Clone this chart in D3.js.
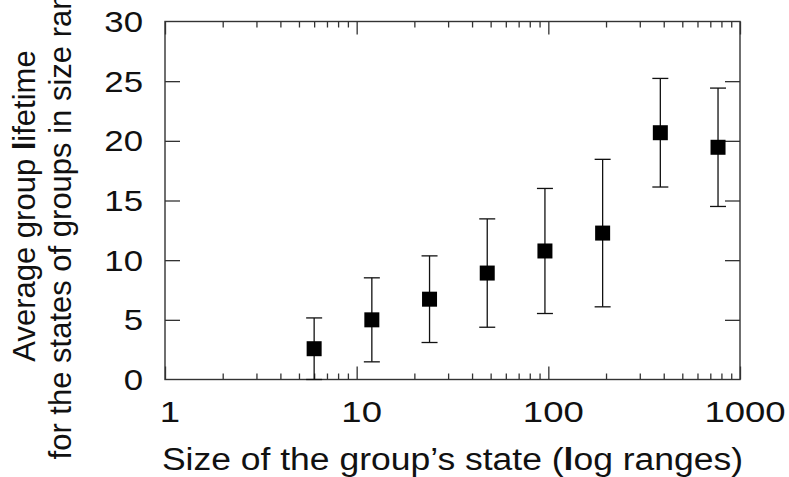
<!DOCTYPE html>
<html>
<head>
<meta charset="utf-8">
<script src="https://cdn.jsdelivr.net/npm/d3@7"></script>
<style>
  body { margin: 0; background: #fff; }
  svg { display: block; font-family: "Liberation Sans", Arial, sans-serif; }
</style>
</head>
<body>
<div id="chart"></div>
<script>
// group state size (log ranges) and average lifetime with its spread
const sizes = [6, 12, 24, 48, 96, 192, 384, 768];
const lifetimes = [2.58, 5.0, 6.73, 8.92, 10.77, 12.27, 20.68, 19.46];
const spreads = [2.58, 3.52, 3.63, 4.54, 5.24, 6.18, 4.55, 4.96];
const xMajor = [1, 10, 100, 1000];
const yTicks = [0, 5, 10, 15, 20, 25, 30];

(() => {
  const width = 789,
    height = 477;

  const svg = d3
    .select("#chart")
    .append("svg")
    .attr("width", width)
    .attr("height", height);

  const x = d3.scaleLog().domain([1, 1000]).range([165, 740]);
  const y = d3.scaleLinear().domain([0, 30]).range([379.5, 21.5]);

  // minor ticks 2..9 in each decade
  const xMinor = [];
  xMajor.slice(0, -1).forEach((d) => {
    for (let k = 2; k <= 9; k++) xMinor.push(d * k);
  });

  const axisColor = "#333";

  // bottom / top axes (ticks inward)
  const bottom = svg.append("g").attr("transform", "translate(0,379.5)");
  bottom.call(d3.axisBottom(x).tickValues(xMajor).tickSize(-13).tickFormat(""));
  bottom.append("g").call(d3.axisBottom(x).tickValues(xMinor).tickSize(-6).tickFormat(""));

  const top = svg.append("g").attr("transform", "translate(0,21.5)");
  top.call(d3.axisTop(x).tickValues(xMajor).tickSize(-13).tickFormat(""));
  top.append("g").call(d3.axisTop(x).tickValues(xMinor).tickSize(-6).tickFormat(""));

  const left = svg.append("g").attr("transform", "translate(165,0)");
  left.call(d3.axisLeft(y).tickValues(yTicks.slice(1, -1)).tickSize(-15).tickFormat(""));
  const right = svg.append("g").attr("transform", "translate(740,0)");
  right.call(d3.axisRight(y).tickValues(yTicks.slice(1, -1)).tickSize(-15).tickFormat(""));

  svg.selectAll(".domain").remove();
  svg.selectAll(".tick line").attr("stroke", axisColor).attr("stroke-width", 1.3);

  // frame
  svg
    .append("rect")
    .attr("x", x(1))
    .attr("y", y(30))
    .attr("width", x(1000) - x(1))
    .attr("height", y(0) - y(30))
    .attr("fill", "none")
    .attr("stroke", axisColor)
    .attr("stroke-width", 1.4);

  // tick labels
  svg
    .selectAll(".xlab")
    .data(xMajor)
    .enter()
    .append("text")
    .attr("transform", (d) => `translate(${x(d) + 5},421.5) scale(1.26,1)`)
    .attr("text-anchor", "middle")
    .attr("font-size", 29)
    .attr("fill", "#111")
    .text((d) => d);

  svg
    .selectAll(".ylab")
    .data(yTicks)
    .enter()
    .append("text")
    .attr("transform", (d) => `translate(143,${y(d)}) scale(1.2,1)`)
    .attr("text-anchor", "end")
    .attr("dy", "0.36em")
    .attr("font-size", 29)
    .attr("fill", "#111")
    .text((d) => d);

  // error bars
  const capW = 8;
  const bars = svg.append("g").attr("stroke", "#111").attr("stroke-width", 1.3);
  sizes.forEach((s, i) => {
    const cx = x(s),
      lo = Math.max(0, lifetimes[i] - spreads[i]),
      hi = lifetimes[i] + spreads[i];
    bars.append("line").attr("x1", cx).attr("x2", cx).attr("y1", y(lo)).attr("y2", y(hi));
    bars.append("line").attr("x1", cx - capW).attr("x2", cx + capW).attr("y1", y(hi)).attr("y2", y(hi));
    bars.append("line").attr("x1", cx - capW).attr("x2", cx + capW).attr("y1", y(lo)).attr("y2", y(lo));
  });

  // square markers
  const sq = 15;
  svg
    .selectAll(".pt")
    .data(sizes)
    .enter()
    .append("rect")
    .attr("x", (d) => x(d) - sq / 2)
    .attr("y", (d, i) => y(lifetimes[i]) - sq / 2)
    .attr("width", sq)
    .attr("height", sq)
    .attr("fill", "#000");

  // axis titles
  const xt = svg
    .append("text")
    .attr("transform", "translate(452.5,469.5) scale(1.145,1)")
    .attr("text-anchor", "middle")
    .attr("font-size", 31)
    .attr("fill", "#111");
  xt.append("tspan").text("Size of the group\u2019s state (");
  xt.append("tspan").attr("font-weight", "bold").text("l");
  xt.append("tspan").text("og ranges)");

  const yt1 = svg
    .append("text")
    .attr("transform", "translate(35,206) rotate(-90)")
    .attr("text-anchor", "middle")
    .attr("font-size", 31)
    .attr("fill", "#111");
  yt1.append("tspan").text("Average group ");
  yt1.append("tspan").attr("font-weight", "bold").text("l");
  yt1.append("tspan").text("ifetime");

  svg
    .append("text")
    .attr("transform", "translate(71,201) rotate(-90)")
    .attr("text-anchor", "middle")
    .attr("font-size", 31)
    .attr("fill", "#111")
    .text("for the states of groups in size ranges");
})();
</script>
</body>
</html>
